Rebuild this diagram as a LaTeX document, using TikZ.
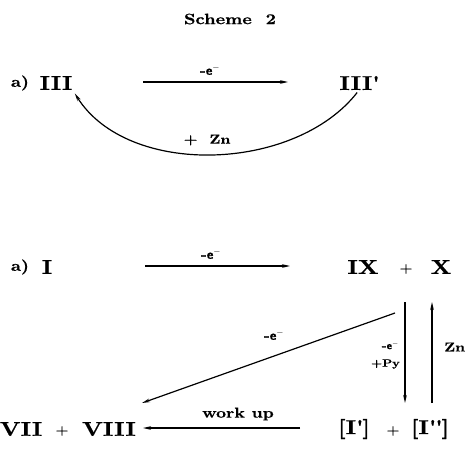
\documentclass[tikz,border=0pt]{standalone}
\usepackage{fontspec}
\usetikzlibrary{arrows.meta}
\newfontfamily\widebf{lmroman10-bold}[Extension=.otf, FakeStretch=1.2, FakeBold=0.6]
\newfontfamily\widesf{lmsans10-bold}[Extension=.otf, FakeBold=0.6]
\tikzset{
  cmpd/.style  = {inner sep=0pt, font=\fontsize{20}{24}\widebf},
  tag/.style   = {inner sep=0pt, font=\fontsize{15}{18}\widebf},
  plus/.style  = {inner sep=0pt, font=\fontsize{12}{14}\widebf},
  cond/.style  = {inner sep=0pt, font=\fontsize{13}{15}\widebf},
  smcond/.style= {inner sep=0pt, font=\fontsize{10.5}{12}\widebf},
  rxn/.style   = {-{Stealth[length=8pt,width=3.6pt]}, line width=1.2pt},
}
\newcommand{\elec}{-{\widesf e}$^{-}$}
\newcommand{\prm}{\textquotesingle}

\begin{document}
\begin{tikzpicture}[x=1pt, y=-1pt]
  \useasboundingbox (0,0) rectangle (470,449);
  \node[inner sep=0pt, font=\fontsize{15}{18}\widebf] (title) at (230,19) {Scheme~~2};

  % part a, upper
  \node[tag]  (a1)   at (20,83)  {a)};
  \node[cmpd] (iii)  at (56,83)  {III};
  \node[cmpd] (iiip) at (359,83) {III\prm};
  \coordinate (t0) at (143,82);
  \coordinate (t1) at (288,82);
  \draw[rxn] (t0) -- (t1);
  \node[cond] (lbl1) at (210,70) {\elec};
  \draw[rxn, shorten <=3pt, shorten >=4pt] (iiip.south) .. controls (295,172) and (128,178) .. (iii.south east);
  \node[cond] (lbl2) at (207,140) {+~~Zn};

  % part a, lower
  \node[tag]  (a2)  at (20,267)  {a)};
  \node[cmpd] (i)   at (47,267)  {I};
  \node[cmpd] (ix)  at (363,267) {IX};
  \node[plus] (p1)  at (406,269) {+};
  \node[cmpd] (x)   at (441,267) {X};
  \coordinate (b0) at (145,266);
  \coordinate (b1) at (290,266);
  \draw[rxn] (b0) -- (b1);
  \node[cond] (lbl3) at (211,254) {\elec};

  \node[cmpd] (vii)  at (21,429)  {VII};
  \node[plus] (p2)   at (62,431)  {+};
  \node[cmpd] (viii) at (109,429) {VIII};
  \node[cmpd] (ip)   at (354,429) {[I\prm]};
  \node[plus] (p3)   at (393,431) {+};
  \node[cmpd] (ipp)  at (430,429) {[I\prm\prm]};

  \coordinate (d0) at (395,313);
  \coordinate (d1) at (142,403);
  \draw[rxn] (d0) -- (d1);
  \node[cond] (lbl4) at (274,335) {\elec};

  \coordinate (v0) at (405,302);
  \coordinate (v1) at (405,403);
  \draw[rxn] (v0) -- (v1);
  \node[smcond, anchor=east] (lbl5) at (399,345) {\elec};
  \node[smcond, anchor=east] (lbl6) at (400,364) {+Py};

  \coordinate (u0) at (432,403);
  \coordinate (u1) at (432,302);
  \draw[rxn] (u0) -- (u1);
  \node[cond, anchor=west] (lbl7) at (444,347) {Zn};

  \coordinate (w0) at (300,428);
  \coordinate (w1) at (143,428);
  \draw[rxn] (w0) -- (w1);
  \node[inner sep=0pt, font=\fontsize{14.5}{17}\widebf] (lbl8) at (238,414) {work up};
\end{tikzpicture}
\end{document}
